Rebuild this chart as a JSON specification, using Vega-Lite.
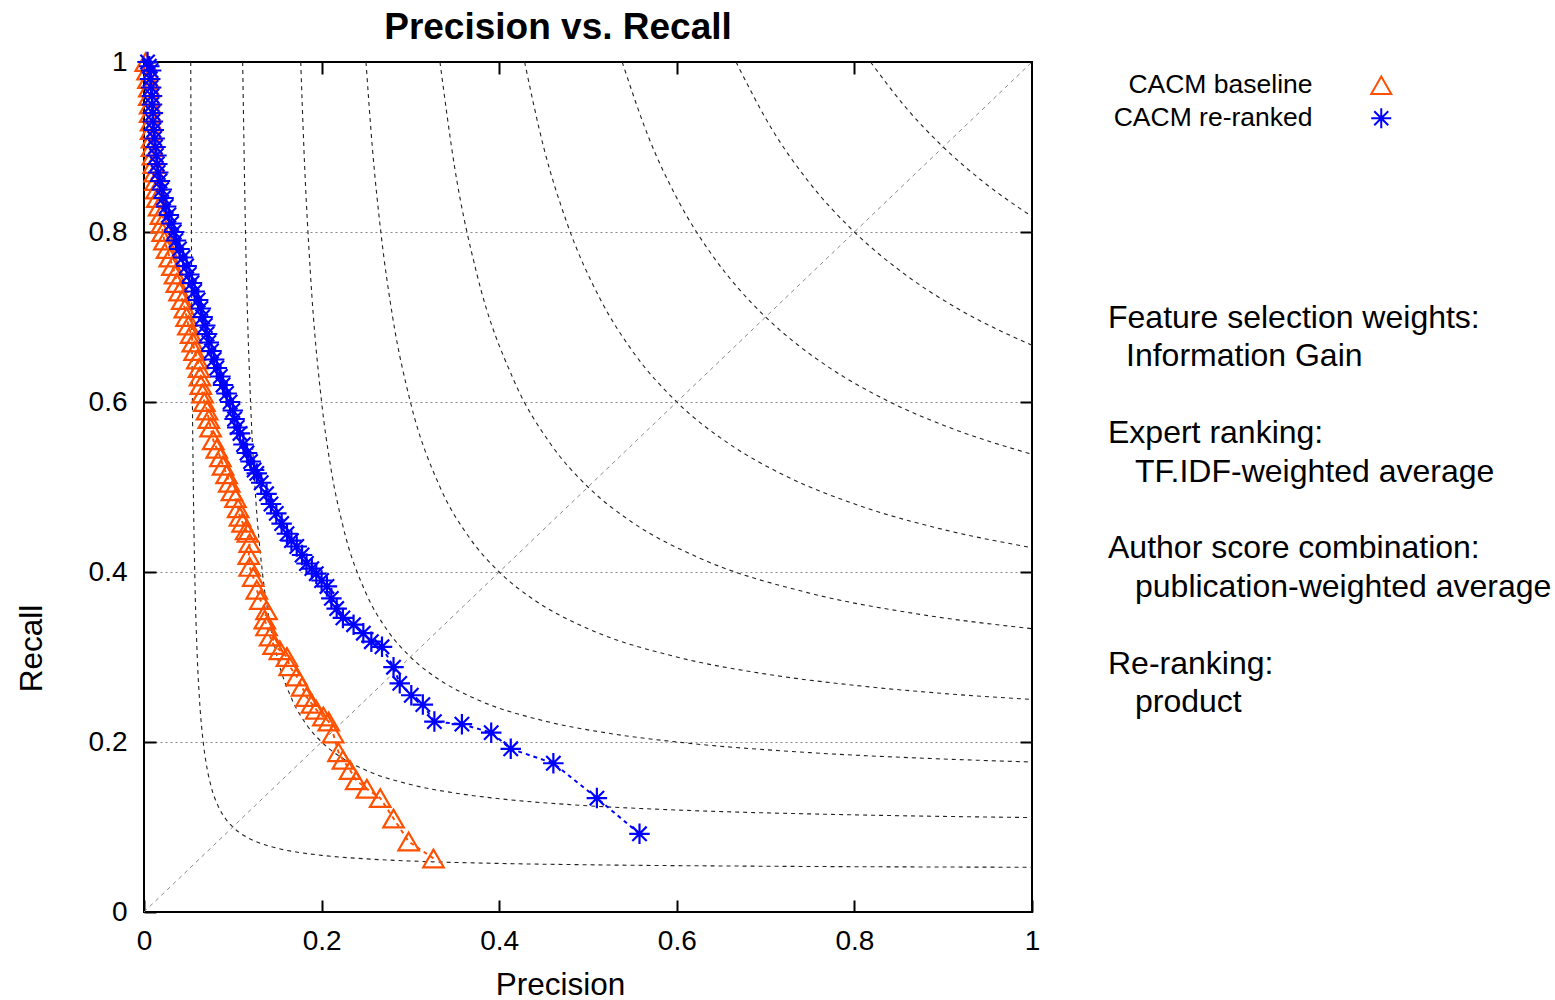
{
  "$schema": "https://vega.github.io/schema/vega-lite/v6.json",
  "width": 888,
  "height": 850,
  "autosize": {"type": "none"},
  "padding": {"left": 144, "top": 62, "right": 523, "bottom": 88},
  "background": "white",
  "title": {"text": "Precision vs. Recall", "fontSize": 37, "fontWeight": "bold", "font": "Liberation Sans", "color": "black", "dx": -30, "offset": 0, "anchor": "middle"},
  "config": {
    "view": {"stroke": "black", "strokeWidth": 2},
    "font": "Liberation Sans",
    "axis": {"labelFont": "Liberation Sans", "labelFontSize": 28, "labelColor": "black", "titleFont": "Liberation Sans", "titleFontSize": 31.5, "titleFontWeight": "normal", "titleColor": "black", "domain": false, "grid": false, "tickColor": "black", "tickWidth": 2, "tickSize": -12, "labelFlush": false, "labelOverlap": false},
    "legend": {"labelFont": "Liberation Sans", "title": null, "orient": "none", "legendX": 1224, "legendY": 10, "labelAlign": "right", "labelOffset": -82, "symbolSize": 400, "labelFontSize": 26.5, "labelLimit": 400, "rowPadding": 5, "symbolStrokeWidth": 2, "labelColor": "black"}
  },
  "datasets": {
    "curves": [
      {"F":0.1,"P":0.05263,"R":1.0},{"F":0.1,"P":0.05385,"R":0.7},{"F":0.1,"P":0.05556,"R":0.5},{"F":0.1,"P":0.05714,"R":0.4},{"F":0.1,"P":0.06,"R":0.3},{"F":0.1,"P":0.0625,"R":0.25},{"F":0.1,"P":0.06667,"R":0.2},{"F":0.1,"P":0.07,"R":0.175},{"F":0.1,"P":0.075,"R":0.15},{"F":0.1,"P":0.08333,"R":0.125},{"F":0.1,"P":0.09167,"R":0.11},{"F":0.1,"P":0.1,"R":0.1},{"F":0.1,"P":0.11,"R":0.09167},{"F":0.1,"P":0.125,"R":0.08333},{"F":0.1,"P":0.15,"R":0.075},{"F":0.1,"P":0.175,"R":0.07},{"F":0.1,"P":0.2,"R":0.06667},{"F":0.1,"P":0.25,"R":0.0625},{"F":0.1,"P":0.3,"R":0.06},{"F":0.1,"P":0.4,"R":0.05714},{"F":0.1,"P":0.5,"R":0.05556},{"F":0.1,"P":0.7,"R":0.05385},{"F":0.1,"P":1.0,"R":0.05263},
      {"F":0.2,"P":0.1111,"R":1.0},{"F":0.2,"P":0.1143,"R":0.8},{"F":0.2,"P":0.12,"R":0.6},{"F":0.2,"P":0.125,"R":0.5},{"F":0.2,"P":0.1333,"R":0.4},{"F":0.2,"P":0.14,"R":0.35},{"F":0.2,"P":0.15,"R":0.3},{"F":0.2,"P":0.1667,"R":0.25},{"F":0.2,"P":0.1833,"R":0.22},{"F":0.2,"P":0.2,"R":0.2},{"F":0.2,"P":0.22,"R":0.1833},{"F":0.2,"P":0.25,"R":0.1667},{"F":0.2,"P":0.3,"R":0.15},{"F":0.2,"P":0.35,"R":0.14},{"F":0.2,"P":0.4,"R":0.1333},{"F":0.2,"P":0.5,"R":0.125},{"F":0.2,"P":0.6,"R":0.12},{"F":0.2,"P":0.8,"R":0.1143},{"F":0.2,"P":1.0,"R":0.1111},
      {"F":0.3,"P":0.1765,"R":1.0},{"F":0.3,"P":0.18,"R":0.9},{"F":0.3,"P":0.1875,"R":0.75},{"F":0.3,"P":0.2,"R":0.6},{"F":0.3,"P":0.21,"R":0.525},{"F":0.3,"P":0.225,"R":0.45},{"F":0.3,"P":0.25,"R":0.375},{"F":0.3,"P":0.275,"R":0.33},{"F":0.3,"P":0.3,"R":0.3},{"F":0.3,"P":0.33,"R":0.275},{"F":0.3,"P":0.375,"R":0.25},{"F":0.3,"P":0.45,"R":0.225},{"F":0.3,"P":0.525,"R":0.21},{"F":0.3,"P":0.6,"R":0.2},{"F":0.3,"P":0.75,"R":0.1875},{"F":0.3,"P":0.9,"R":0.18},{"F":0.3,"P":1.0,"R":0.1765},
      {"F":0.4,"P":0.25,"R":1.0},{"F":0.4,"P":0.2571,"R":0.9},{"F":0.4,"P":0.2667,"R":0.8},{"F":0.4,"P":0.28,"R":0.7},{"F":0.4,"P":0.3,"R":0.6},{"F":0.4,"P":0.3333,"R":0.5},{"F":0.4,"P":0.3667,"R":0.44},{"F":0.4,"P":0.4,"R":0.4},{"F":0.4,"P":0.44,"R":0.3667},{"F":0.4,"P":0.5,"R":0.3333},{"F":0.4,"P":0.6,"R":0.3},{"F":0.4,"P":0.7,"R":0.28},{"F":0.4,"P":0.8,"R":0.2667},{"F":0.4,"P":0.9,"R":0.2571},{"F":0.4,"P":1.0,"R":0.25},
      {"F":0.5,"P":0.3333,"R":1.0},{"F":0.5,"P":0.35,"R":0.875},{"F":0.5,"P":0.375,"R":0.75},{"F":0.5,"P":0.4167,"R":0.625},{"F":0.5,"P":0.4583,"R":0.55},{"F":0.5,"P":0.5,"R":0.5},{"F":0.5,"P":0.55,"R":0.4583},{"F":0.5,"P":0.625,"R":0.4167},{"F":0.5,"P":0.75,"R":0.375},{"F":0.5,"P":0.875,"R":0.35},{"F":0.5,"P":1.0,"R":0.3333},
      {"F":0.6,"P":0.4286,"R":1.0},{"F":0.6,"P":0.45,"R":0.9},{"F":0.6,"P":0.4765,"R":0.81},{"F":0.6,"P":0.5143,"R":0.72},{"F":0.6,"P":0.55,"R":0.66},{"F":0.6,"P":0.6,"R":0.6},{"F":0.6,"P":0.66,"R":0.55},{"F":0.6,"P":0.72,"R":0.5143},{"F":0.6,"P":0.81,"R":0.4765},{"F":0.6,"P":0.9,"R":0.45},{"F":0.6,"P":1.0,"R":0.4286},
      {"F":0.7,"P":0.5385,"R":1.0},{"F":0.7,"P":0.5688,"R":0.91},{"F":0.7,"P":0.6,"R":0.84},{"F":0.7,"P":0.6417,"R":0.77},{"F":0.7,"P":0.6682,"R":0.735},{"F":0.7,"P":0.7,"R":0.7},{"F":0.7,"P":0.735,"R":0.6682},{"F":0.7,"P":0.77,"R":0.6417},{"F":0.7,"P":0.84,"R":0.6},{"F":0.7,"P":0.91,"R":0.5688},{"F":0.7,"P":1.0,"R":0.5385},
      {"F":0.8,"P":0.6667,"R":1.0},{"F":0.8,"P":0.7077,"R":0.92},{"F":0.8,"P":0.7478,"R":0.86},{"F":0.8,"P":0.8,"R":0.8},{"F":0.8,"P":0.86,"R":0.7478},{"F":0.8,"P":0.92,"R":0.7077},{"F":0.8,"P":1.0,"R":0.6667},
      {"F":0.9,"P":0.8182,"R":1.0},{"F":0.9,"P":0.8591,"R":0.945},{"F":0.9,"P":0.9,"R":0.9},{"F":0.9,"P":0.945,"R":0.8591},{"F":0.9,"P":1.0,"R":0.8182}
    ],
    "diag": [{"P":0,"R":0},{"P":1,"R":1}],
    "series": [
      {"s":"CACM baseline","P":0.002,"R":1.0},{"s":"CACM baseline","P":0.004,"R":0.99},{"s":"CACM baseline","P":0.005,"R":0.98},{"s":"CACM baseline","P":0.006,"R":0.97},{"s":"CACM baseline","P":0.006,"R":0.96},{"s":"CACM baseline","P":0.007,"R":0.95},{"s":"CACM baseline","P":0.007,"R":0.94},{"s":"CACM baseline","P":0.008,"R":0.93},{"s":"CACM baseline","P":0.008,"R":0.92},{"s":"CACM baseline","P":0.009,"R":0.91},{"s":"CACM baseline","P":0.009,"R":0.9},{"s":"CACM baseline","P":0.01,"R":0.89},{"s":"CACM baseline","P":0.011,"R":0.88},{"s":"CACM baseline","P":0.012,"R":0.87},{"s":"CACM baseline","P":0.013,"R":0.86},{"s":"CACM baseline","P":0.014,"R":0.85},{"s":"CACM baseline","P":0.015,"R":0.84},{"s":"CACM baseline","P":0.017,"R":0.83},{"s":"CACM baseline","P":0.019,"R":0.82},{"s":"CACM baseline","P":0.02,"R":0.81},{"s":"CACM baseline","P":0.021,"R":0.8},{"s":"CACM baseline","P":0.023,"R":0.79},{"s":"CACM baseline","P":0.026,"R":0.78},{"s":"CACM baseline","P":0.029,"R":0.77},{"s":"CACM baseline","P":0.032,"R":0.76},{"s":"CACM baseline","P":0.035,"R":0.75},{"s":"CACM baseline","P":0.037,"R":0.74},{"s":"CACM baseline","P":0.04,"R":0.73},{"s":"CACM baseline","P":0.043,"R":0.72},{"s":"CACM baseline","P":0.046,"R":0.71},{"s":"CACM baseline","P":0.048,"R":0.7},{"s":"CACM baseline","P":0.05,"R":0.69},{"s":"CACM baseline","P":0.053,"R":0.68},{"s":"CACM baseline","P":0.055,"R":0.67},{"s":"CACM baseline","P":0.057,"R":0.66},{"s":"CACM baseline","P":0.06,"R":0.65},{"s":"CACM baseline","P":0.062,"R":0.64},{"s":"CACM baseline","P":0.063,"R":0.63},{"s":"CACM baseline","P":0.064,"R":0.62},{"s":"CACM baseline","P":0.066,"R":0.61},{"s":"CACM baseline","P":0.068,"R":0.6},{"s":"CACM baseline","P":0.071,"R":0.59},{"s":"CACM baseline","P":0.073,"R":0.58},{"s":"CACM baseline","P":0.075,"R":0.57},{"s":"CACM baseline","P":0.078,"R":0.555},{"s":"CACM baseline","P":0.082,"R":0.545},{"s":"CACM baseline","P":0.086,"R":0.535},{"s":"CACM baseline","P":0.089,"R":0.525},{"s":"CACM baseline","P":0.093,"R":0.515},{"s":"CACM baseline","P":0.096,"R":0.505},{"s":"CACM baseline","P":0.099,"R":0.495},{"s":"CACM baseline","P":0.103,"R":0.487},{"s":"CACM baseline","P":0.106,"R":0.475},{"s":"CACM baseline","P":0.108,"R":0.465},{"s":"CACM baseline","P":0.111,"R":0.458},{"s":"CACM baseline","P":0.115,"R":0.449},{"s":"CACM baseline","P":0.117,"R":0.446},{"s":"CACM baseline","P":0.119,"R":0.434},{"s":"CACM baseline","P":0.118,"R":0.42},{"s":"CACM baseline","P":0.119,"R":0.406},{"s":"CACM baseline","P":0.123,"R":0.394},{"s":"CACM baseline","P":0.127,"R":0.379},{"s":"CACM baseline","P":0.131,"R":0.367},{"s":"CACM baseline","P":0.138,"R":0.355},{"s":"CACM baseline","P":0.136,"R":0.344},{"s":"CACM baseline","P":0.138,"R":0.336},{"s":"CACM baseline","P":0.142,"R":0.324},{"s":"CACM baseline","P":0.146,"R":0.314},{"s":"CACM baseline","P":0.153,"R":0.308},{"s":"CACM baseline","P":0.161,"R":0.3},{"s":"CACM baseline","P":0.164,"R":0.289},{"s":"CACM baseline","P":0.172,"R":0.277},{"s":"CACM baseline","P":0.178,"R":0.265},{"s":"CACM baseline","P":0.183,"R":0.253},{"s":"CACM baseline","P":0.189,"R":0.245},{"s":"CACM baseline","P":0.194,"R":0.238},{"s":"CACM baseline","P":0.202,"R":0.23},{"s":"CACM baseline","P":0.208,"R":0.224},{"s":"CACM baseline","P":0.213,"R":0.21},{"s":"CACM baseline","P":0.219,"R":0.188},{"s":"CACM baseline","P":0.224,"R":0.179},{"s":"CACM baseline","P":0.232,"R":0.167},{"s":"CACM baseline","P":0.239,"R":0.155},{"s":"CACM baseline","P":0.251,"R":0.145},{"s":"CACM baseline","P":0.266,"R":0.134},{"s":"CACM baseline","P":0.281,"R":0.11},{"s":"CACM baseline","P":0.298,"R":0.083},{"s":"CACM baseline","P":0.326,"R":0.063},
      {"s":"CACM re-ranked","P":0.004,"R":1.0},{"s":"CACM re-ranked","P":0.006,"R":0.995},{"s":"CACM re-ranked","P":0.008,"R":0.99},{"s":"CACM re-ranked","P":0.007,"R":0.98},{"s":"CACM re-ranked","P":0.008,"R":0.97},{"s":"CACM re-ranked","P":0.009,"R":0.96},{"s":"CACM re-ranked","P":0.009,"R":0.95},{"s":"CACM re-ranked","P":0.01,"R":0.94},{"s":"CACM re-ranked","P":0.01,"R":0.93},{"s":"CACM re-ranked","P":0.011,"R":0.92},{"s":"CACM re-ranked","P":0.012,"R":0.91},{"s":"CACM re-ranked","P":0.013,"R":0.9},{"s":"CACM re-ranked","P":0.014,"R":0.89},{"s":"CACM re-ranked","P":0.015,"R":0.88},{"s":"CACM re-ranked","P":0.016,"R":0.87},{"s":"CACM re-ranked","P":0.018,"R":0.86},{"s":"CACM re-ranked","P":0.02,"R":0.85},{"s":"CACM re-ranked","P":0.022,"R":0.84},{"s":"CACM re-ranked","P":0.025,"R":0.83},{"s":"CACM re-ranked","P":0.028,"R":0.82},{"s":"CACM re-ranked","P":0.031,"R":0.81},{"s":"CACM re-ranked","P":0.034,"R":0.8},{"s":"CACM re-ranked","P":0.036,"R":0.79},{"s":"CACM re-ranked","P":0.04,"R":0.78},{"s":"CACM re-ranked","P":0.044,"R":0.77},{"s":"CACM re-ranked","P":0.048,"R":0.76},{"s":"CACM re-ranked","P":0.051,"R":0.75},{"s":"CACM re-ranked","P":0.054,"R":0.74},{"s":"CACM re-ranked","P":0.057,"R":0.73},{"s":"CACM re-ranked","P":0.061,"R":0.72},{"s":"CACM re-ranked","P":0.064,"R":0.71},{"s":"CACM re-ranked","P":0.066,"R":0.7},{"s":"CACM re-ranked","P":0.069,"R":0.69},{"s":"CACM re-ranked","P":0.071,"R":0.68},{"s":"CACM re-ranked","P":0.073,"R":0.67},{"s":"CACM re-ranked","P":0.076,"R":0.66},{"s":"CACM re-ranked","P":0.079,"R":0.65},{"s":"CACM re-ranked","P":0.082,"R":0.64},{"s":"CACM re-ranked","P":0.086,"R":0.63},{"s":"CACM re-ranked","P":0.089,"R":0.62},{"s":"CACM re-ranked","P":0.093,"R":0.61},{"s":"CACM re-ranked","P":0.097,"R":0.6},{"s":"CACM re-ranked","P":0.1,"R":0.59},{"s":"CACM re-ranked","P":0.102,"R":0.58},{"s":"CACM re-ranked","P":0.105,"R":0.57},{"s":"CACM re-ranked","P":0.108,"R":0.563},{"s":"CACM re-ranked","P":0.112,"R":0.55},{"s":"CACM re-ranked","P":0.116,"R":0.54},{"s":"CACM re-ranked","P":0.12,"R":0.53},{"s":"CACM re-ranked","P":0.124,"R":0.52},{"s":"CACM re-ranked","P":0.127,"R":0.516},{"s":"CACM re-ranked","P":0.132,"R":0.505},{"s":"CACM re-ranked","P":0.138,"R":0.492},{"s":"CACM re-ranked","P":0.143,"R":0.48},{"s":"CACM re-ranked","P":0.149,"R":0.469},{"s":"CACM re-ranked","P":0.155,"R":0.457},{"s":"CACM re-ranked","P":0.161,"R":0.445},{"s":"CACM re-ranked","P":0.166,"R":0.437},{"s":"CACM re-ranked","P":0.172,"R":0.43},{"s":"CACM re-ranked","P":0.178,"R":0.42},{"s":"CACM re-ranked","P":0.183,"R":0.41},{"s":"CACM re-ranked","P":0.189,"R":0.404},{"s":"CACM re-ranked","P":0.194,"R":0.398},{"s":"CACM re-ranked","P":0.2,"R":0.39},{"s":"CACM re-ranked","P":0.206,"R":0.383},{"s":"CACM re-ranked","P":0.211,"R":0.369},{"s":"CACM re-ranked","P":0.217,"R":0.357},{"s":"CACM re-ranked","P":0.224,"R":0.346},{"s":"CACM re-ranked","P":0.236,"R":0.338},{"s":"CACM re-ranked","P":0.247,"R":0.328},{"s":"CACM re-ranked","P":0.256,"R":0.318},{"s":"CACM re-ranked","P":0.268,"R":0.312},{"s":"CACM re-ranked","P":0.281,"R":0.288},{"s":"CACM re-ranked","P":0.288,"R":0.269},{"s":"CACM re-ranked","P":0.301,"R":0.255},{"s":"CACM re-ranked","P":0.314,"R":0.244},{"s":"CACM re-ranked","P":0.327,"R":0.224},{"s":"CACM re-ranked","P":0.358,"R":0.221},{"s":"CACM re-ranked","P":0.391,"R":0.211},{"s":"CACM re-ranked","P":0.413,"R":0.192},{"s":"CACM re-ranked","P":0.461,"R":0.175},{"s":"CACM re-ranked","P":0.51,"R":0.134},{"s":"CACM re-ranked","P":0.558,"R":0.092}
    ],
    "notes": [
      {"line":0,"text":"Feature selection weights:"},
      {"line":1,"text":"Information Gain"},
      {"line":3,"text":"Expert ranking:"},
      {"line":4,"text":"TF.IDF-weighted average"},
      {"line":6,"text":"Author score combination:"},
      {"line":7,"text":"publication-weighted average"},
      {"line":9,"text":"Re-ranking:"},
      {"line":10,"text":"product"}
    ]
  },
  "resolve": {"scale": {"y": "independent"}, "axis": {"x": "independent", "y": "independent"}},
  "layer": [
    {
      "data": {"name": "curves"},
      "mark": {"type": "line", "interpolate": "monotone", "strokeDash": [4, 4], "strokeWidth": 1.1, "color": "#222222"},
      "encoding": {
        "x": {"field": "P", "type": "quantitative", "scale": {"domain": [0, 1], "nice": false, "zero": false},
              "axis": {"orient": "bottom", "values": [0, 0.2, 0.4, 0.6, 0.8, 1], "format": "~g", "title": "Precision", "labelPadding": 27, "titleX": 416, "titleY": 82, "titleBaseline": "alphabetic", "titleAlign": "center", "titleAnchor": null}},
        "y": {"field": "R", "type": "quantitative", "scale": {"domain": [0, 1], "nice": false, "zero": false},
              "axis": {"orient": "left", "values": [0, 0.2, 0.4, 0.6, 0.8, 1], "format": "~g", "title": "Recall", "labelPadding": 29, "titleX": -103, "titleY": 586, "titleBaseline": "alphabetic", "titleAlign": "center", "titleAngle": -90, "titleAnchor": null}},
        "detail": {"field": "F", "type": "nominal"}
      }
    },
    {
      "data": {"name": "diag"},
      "mark": {"type": "line", "strokeDash": [4, 4], "strokeWidth": 1, "color": "#888888"},
      "encoding": {
        "x": {"field": "P", "type": "quantitative", "scale": {"domain": [0, 1], "nice": false, "zero": false},
              "axis": {"orient": "top", "values": [0.2, 0.4, 0.6, 0.8], "labels": false, "title": null}},
        "y": {"field": "R", "type": "quantitative", "scale": {"domain": [0, 1], "nice": false, "zero": false},
              "axis": {"orient": "right", "values": [0.2, 0.4, 0.6, 0.8], "labels": false, "title": null, "grid": true, "gridDash": [2, 3], "gridColor": "#888888", "gridWidth": 1}}
      }
    },
    {
      "data": {"name": "series"},
      "mark": {"type": "line", "strokeDash": [4, 4], "strokeWidth": 2},
      "encoding": {
        "x": {"field": "P", "type": "quantitative", "scale": {"domain": [0, 1], "nice": false, "zero": false}, "axis": null},
        "y": {"field": "R", "type": "quantitative", "scale": {"domain": [0, 1], "nice": false, "zero": false}, "axis": null},
        "color": {"field": "s", "type": "nominal", "scale": {"domain": ["CACM baseline", "CACM re-ranked"], "range": ["#ff5000", "#0000ff"]}},
        "detail": {"field": "s"},
        "order": {"value": null}
      }
    },
    {
      "data": {"name": "series"},
      "mark": {"type": "point", "filled": false, "size": 420, "strokeWidth": 2.2, "opacity": 1},
      "encoding": {
        "x": {"field": "P", "type": "quantitative", "scale": {"domain": [0, 1], "nice": false, "zero": false}, "axis": null},
        "y": {"field": "R", "type": "quantitative", "scale": {"domain": [0, 1], "nice": false, "zero": false}, "axis": null},
        "color": {"field": "s", "type": "nominal", "scale": {"domain": ["CACM baseline", "CACM re-ranked"], "range": ["#ff5000", "#0000ff"]}},
        "shape": {"field": "s", "type": "nominal", "scale": {"domain": ["CACM baseline", "CACM re-ranked"], "range": ["triangle-up", "M-1,0L1,0M0,-1L0,1M-0.7,-0.7L0.7,0.7M-0.7,0.7L0.7,-0.7"]}}
      }
    },
    {
      "data": {"name": "notes"},
      "mark": {"type": "text", "align": "left", "baseline": "middle", "fontSize": 32, "font": "Liberation Sans", "color": "black", "dx": {"expr": "datum.line % 3 == 0 ? 0 : (datum.line == 1 ? 18 : 27)"}},
      "encoding": {
        "x": {"datum": 1.0856, "type": "quantitative", "scale": {"domain": [0, 1], "nice": false, "zero": false}, "axis": null},
        "y": {"field": "line", "type": "quantitative", "scale": {"domain": [-6.67, 15.47], "reverse": true, "nice": false, "zero": false}, "axis": null},
        "text": {"field": "text", "type": "nominal"}
      }
    }
  ]
}
